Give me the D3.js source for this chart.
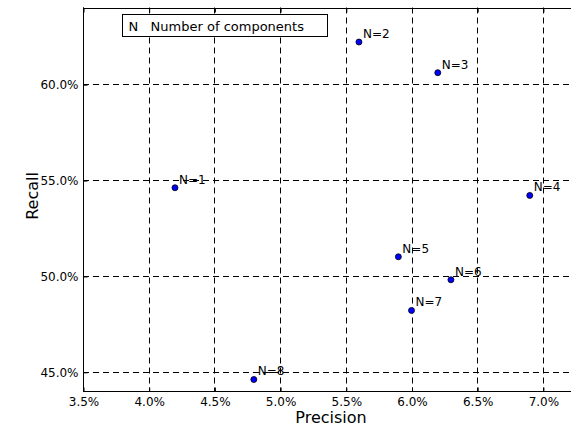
<!DOCTYPE html>
<html>
<head>
<meta charset="utf-8">
<script src="https://cdn.jsdelivr.net/npm/d3@7"></script>
<style>
  body { margin: 0; background: #fff; }
  svg { display: block; font-family: "DejaVu Sans", sans-serif; }
</style>
</head>
<body>
<div id="chart"></div>
<script>
// data (percent)
var labels = ['N=1', 'N=2', 'N=3', 'N=4', 'N=5', 'N=6', 'N=7', 'N=8'];
var precision = [4.2, 5.6, 6.2, 6.9, 5.9, 6.3, 6.0, 4.8];
var recall = [54.6, 62.2, 60.6, 54.2, 51.0, 49.8, 48.2, 44.6];
var xTicks = [3.5, 4.0, 4.5, 5.0, 5.5, 6.0, 6.5, 7.0];
var yTicks = [45, 50, 55, 60];

var w = 571, h = 427;
var mLeft = 83, mTop = 7.5, mBottom = 391;
var mRight = w + 5;

var svg = d3.select('#chart').append('svg')
    .attr('width', w)
    .attr('height', h);

var xscale = d3.scaleLinear().domain([3.5, 7.5]).range([mLeft, mLeft + 8 * 65.7]);
var yscale = d3.scaleLinear().domain([44, 64]).range([mBottom, mTop]);

// grid
var grid = svg.append('g');
grid.selectAll('line.gx')
    .data(xTicks)
    .enter()
    .append('line')
    .attr('x1', function (d) { return Math.round(xscale(d)) + 0.5; })
    .attr('x2', function (d) { return Math.round(xscale(d)) + 0.5; })
    .attr('y1', mTop)
    .attr('y2', mBottom)
    .attr('stroke', '#000')
    .attr('stroke-dasharray', '6,4');
grid.selectAll('line.gy')
    .data(yTicks)
    .enter()
    .append('line')
    .attr('y1', function (d) { return Math.round(yscale(d)) + 0.5; })
    .attr('y2', function (d) { return Math.round(yscale(d)) + 0.5; })
    .attr('x1', mLeft)
    .attr('x2', mRight)
    .attr('stroke', '#000')
    .attr('stroke-dasharray', '6,4');

// axes, ticks pointing inward
var xAxis = d3.axisBottom(xscale)
    .tickValues(xTicks)
    .tickSizeInner(-4)
    .tickSizeOuter(0)
    .tickPadding(6)
    .tickFormat(function (d) { return d.toFixed(1) + '%'; });
var xTop = d3.axisTop(xscale)
    .tickValues(xTicks)
    .tickSizeInner(-4)
    .tickSizeOuter(0)
    .tickFormat('');
var yAxis = d3.axisLeft(yscale)
    .tickValues(yTicks)
    .tickSizeInner(-4)
    .tickSizeOuter(0)
    .tickPadding(5)
    .tickFormat(function (d) { return d.toFixed(1) + '%'; });

var x_g = svg.append('g')
    .attr('transform', 'translate(0.5,' + (Math.round(mBottom) + 0.5) + ')')
    .call(xAxis);
var xt_g = svg.append('g')
    .attr('transform', 'translate(0.5,' + (Math.round(mTop) + 0.5) + ')')
    .call(xTop);
var y_g = svg.append('g')
    .attr('transform', 'translate(' + (mLeft + 0.5) + ',0.5)')
    .call(yAxis);

[x_g, xt_g, y_g].forEach(function (g) {
    g.select('.domain').remove();
    g.selectAll('line').attr('stroke', '#000');
    g.selectAll('text').attr('fill', '#000').attr('font-size', '12px')
        .attr('font-family', 'DejaVu Sans');
});

// spines
svg.append('line')
    .attr('x1', mLeft).attr('x2', mRight)
    .attr('y1', Math.round(mBottom) + 0.5).attr('y2', Math.round(mBottom) + 0.5)
    .attr('stroke', '#000');
svg.append('line')
    .attr('x1', mLeft).attr('x2', mRight)
    .attr('y1', Math.round(mTop) + 0.5).attr('y2', Math.round(mTop) + 0.5)
    .attr('stroke', '#000');
svg.append('line')
    .attr('x1', mLeft + 0.5).attr('x2', mLeft + 0.5)
    .attr('y1', mTop).attr('y2', mBottom + 0.5)
    .attr('stroke', '#000');

// points
var pts = precision.map(function (p, i) {
    return {x: p, y: recall[i], label: labels[i]};
});

svg.append('g').selectAll('circle')
    .data(pts)
    .enter()
    .append('circle')
    .attr('cx', function (d) { return xscale(d.x); })
    .attr('cy', function (d) { return yscale(d.y); })
    .attr('r', 3)
    .attr('fill', '#0000ff')
    .attr('stroke', '#000')
    .attr('stroke-width', 0.8);

svg.append('g').selectAll('text')
    .data(pts)
    .enter()
    .append('text')
    .text(function (d) { return d.label; })
    .attr('x', function (d) { return xscale(d.x) + 4; })
    .attr('y', function (d) { return yscale(d.y) - 4; })
    .attr('fill', '#000')
    .attr('font-size', '12px');

// legend box
svg.append('rect')
    .attr('x', 122.5).attr('y', 14.5)
    .attr('width', 205).attr('height', 22)
    .attr('fill', '#fff')
    .attr('stroke', '#000');
svg.append('text')
    .attr('x', 128.5).attr('y', 31)
    .attr('font-size', '13px')
    .attr('fill', '#000')
    .attr('xml:space', 'preserve')
    .text('N   Number of components');

// axis titles
svg.append('text')
    .attr('x', 331).attr('y', 423)
    .attr('text-anchor', 'middle')
    .attr('font-size', '16px')
    .attr('fill', '#000')
    .text('Precision');
svg.append('text')
    .attr('transform', 'translate(38,' + 196 + ') rotate(-90)')
    .attr('text-anchor', 'middle')
    .attr('font-size', '16px')
    .attr('fill', '#000')
    .text('Recall');
</script>
</body>
</html>
